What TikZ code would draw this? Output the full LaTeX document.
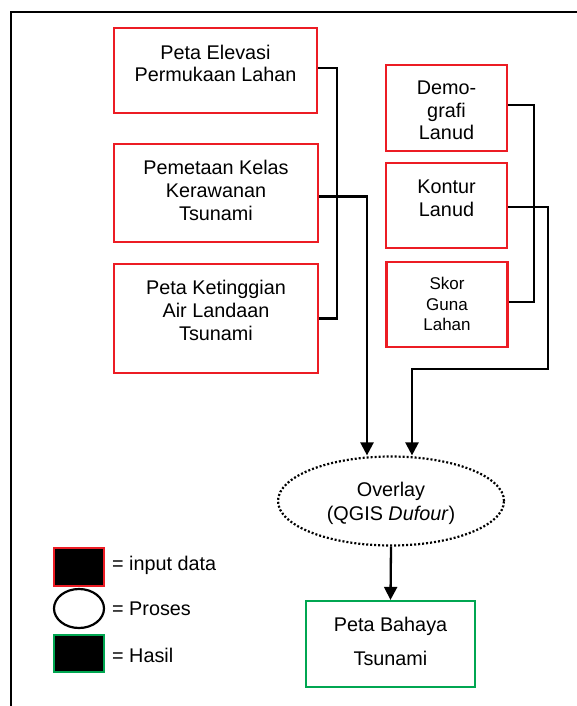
\documentclass[tikz,border=0pt]{standalone}
\usepackage{fontspec}
\setmainfont{Liberation Sans}
\usetikzlibrary{shapes.geometric,arrows.meta}
\definecolor{inred}{RGB}{236,28,36}
\definecolor{outgreen}{RGB}{0,166,81}
\begin{document}
\begin{tikzpicture}[x=1pt,y=-1pt,
  inbox/.style={draw=inred,line width=2.2pt,rectangle,inner sep=0pt},
  outbox/.style={draw=outgreen,line width=2.2pt,rectangle,inner sep=0pt},
  procnode/.style={draw=black,line width=2.2pt,ellipse,inner sep=0pt,dash pattern=on 2pt off 2pt},
  label/.style={inner sep=0pt,anchor=north,align=center,font=\fontsize{19.8}{#1}\selectfont},
  label/.default=23,
  link/.style={draw=black,line width=2.3pt},
  arr/.style={link,-{Triangle[length=13pt,width=13pt]}},
  key/.style={inner sep=0pt,anchor=base west,font=\fontsize{19.8}{23}\selectfont}]
\useasboundingbox (0,0) rectangle (577,706);
\fill[white] (0,0) rectangle (577,706);

% outer frame (open on the right and at the bottom)
\draw[line width=2.4pt] (11,706) -- (11,12) -- (577,12);

% input data boxes, left column
\node[inbox,minimum width=203,minimum height=85] (b1) at (215.5,70.5) {};
\node[label=22] (t1) at (215.5,45) {Peta Elevasi\\Permukaan Lahan};
\node[inbox,minimum width=204,minimum height=98] (b2) at (216,193) {};
\node[label=23] (t2) at (216,160) {Pemetaan Kelas\\Kerawanan\\Tsunami};
\node[inbox,minimum width=204,minimum height=109] (b3) at (216,318.5) {};
\node[label=23] (t3) at (216,280) {Peta Ketinggian\\Air Landaan\\Tsunami};

% input data boxes, right column
\node[inbox,minimum width=121,minimum height=86] (d) at (446.5,108) {};
\node[label=22.5] (td) at (446.5,81) {Demo-\\grafi\\Lanud};
\node[inbox,minimum width=121,minimum height=85] (k) at (446.5,205.5) {};
\node[label=23] (tk) at (446.5,180) {Kontur\\Lanud};
\node[inbox,minimum width=121,minimum height=85] (s) at (447,304.5) {};
\node[inner sep=0pt,anchor=north,align=center,font=\fontsize{17}{20.5}\selectfont] (ts) at (447,277) {Skor\\Guna\\Lahan};

% process and result
\node[procnode,minimum width=226,minimum height=89] (ov) at (391,501) {};
\node[label=24] (tov) at (391,482) {Overlay\\(QGIS \textit{Dufour})};
\node[outbox,minimum width=169,minimum height=86] (res) at (390.5,644) {};
\node[label=34] (tres) at (390.5,617) {Peta Bahaya\\Tsunami};

% where the connectors leave the boxes, and their elbows
\coordinate (b1o) at ([yshift=2.5pt]b1.east);
\coordinate (b2o) at ([yshift=-3.5pt]b2.east);
\coordinate (do) at ([yshift=3pt]d.east);
\coordinate (ko) at ([yshift=-1.5pt]k.east);
\coordinate (so) at ([yshift=2.5pt]s.east);
\coordinate (j1) at (337,0);
\coordinate (j2) at (534,0);
\coordinate (j3) at (548,369);
\coordinate (ovl) at ([xshift=-24pt]ov.north);
\coordinate (ovr) at ([xshift=21pt]ov.north);

% connectors
\draw[link] (b1o) -| (j1 |- b3.east) -- (b3.east);
\draw[arr] (b2o) -| (ovl);
\draw[link] (do) -| (j2 |- so) -- (so);
\draw[arr] (ko) -| (j3) -| (ovr);
\draw[arr] (ov.south) -- (res.north);

% legend
\node[inbox,fill=black,minimum width=50,minimum height=38] (li) at (79,567) {};
\node[key] (lit) at (112,570) {= input data};
\node[draw=black,line width=2.2pt,ellipse,fill=white,minimum width=50,minimum height=39,inner sep=0pt] (lo) at (79,608.5) {};
\node[key] (lot) at (112,615) {= Proses};
\node[outbox,fill=black,minimum width=50,minimum height=37] (lh) at (79,653.5) {};
\node[key] (lht) at (112,662) {= Hasil};
\end{tikzpicture}
\end{document}
